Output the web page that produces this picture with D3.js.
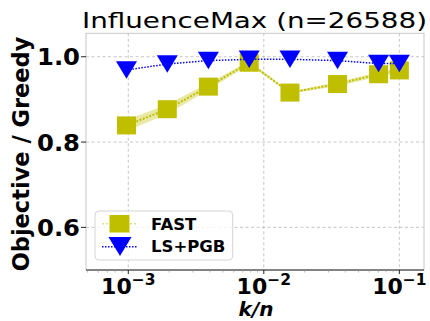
<!DOCTYPE html>
<html><head><meta charset="utf-8">
<script src="https://cdn.jsdelivr.net/npm/d3@7"></script>
<style>body{margin:0;background:#fff}svg{display:block}</style>
</head><body><svg id="c" width="430" height="321"></svg>
<script>
// ---- data ----
const kn      = [0.00097, 0.00194, 0.0039, 0.0078, 0.0156, 0.035, 0.0703, 0.1];
const fast    = [0.839, 0.877, 0.930, 0.986, 0.916, 0.936, 0.959, 0.968];
const fastStd = [0.013, 0.011, 0.008, 0.004, 0.002, 0.005, 0.005, 0.004];
const lspgb   = [0.969, 0.983, 0.991, 0.994, 0.994, 0.991, 0.984, 0.984];
const yTicks  = [0.6, 0.8, 1.0];
const xTicks  = [1e-3, 1e-2, 1e-1];
const xTickExp = ["\u22123", "\u22122", "\u22121"];
const seriesNames = ["FAST", "LS+PGB"];
const title = "InfluenceMax (n=26588)";
const xLabel = "k/n";
const yLabel = "Objective / Greedy";

// ---- layout ----
const L = 86, R = 424, T = 33.3, B = 270;
const yellow = "#bfbf00", blue = "#0000ff";
const svg = d3.select("#c");
const x = d3.scaleLog().domain([Math.pow(10, -3.312), Math.pow(10, -0.818)]).range([L, R]);
const y = d3.scaleLinear().domain([0.5, 1.055]).range([B, T]);

// grid
const g = svg.append("g");
g.selectAll(".gx").data(xTicks).enter().append("line")
  .attr("x1", d => x(d)).attr("x2", d => x(d)).attr("y1", T).attr("y2", B)
  .attr("stroke", "#b8b8b8").attr("stroke-width", 0.8).attr("stroke-dasharray", "3,2.5");
g.selectAll(".gy").data(yTicks).enter().append("line")
  .attr("x1", L).attr("x2", R).attr("y1", d => y(d)).attr("y2", d => y(d))
  .attr("stroke", "#b8b8b8").attr("stroke-width", 0.8).attr("stroke-dasharray", "3,2.5");

// spines
svg.append("rect").attr("x", L).attr("y", T).attr("width", R - L).attr("height", B - T)
  .attr("fill", "none").attr("stroke", "#c8c8c8").attr("stroke-width", 1);
svg.append("line").attr("x1", L).attr("x2", R).attr("y1", B).attr("y2", B)
  .attr("stroke", "#222").attr("stroke-width", 1.2);

// minor ticks
const minors = [];
for (let e = -4; e <= -1; e++) for (let m = 2; m <= 9; m++) {
  const v = m * Math.pow(10, e);
  if (v > x.domain()[0] && v < x.domain()[1]) minors.push(v);
}
svg.selectAll(".mt").data(minors).enter().append("line")
  .attr("x1", d => x(d)).attr("x2", d => x(d)).attr("y1", B).attr("y2", B + 2.5)
  .attr("stroke", "#999").attr("stroke-width", 0.7);
svg.selectAll(".xt").data(xTicks).enter().append("line")
  .attr("x1", d => x(d)).attr("x2", d => x(d)).attr("y1", B).attr("y2", B + 4)
  .attr("stroke", "#222").attr("stroke-width", 1);
svg.selectAll(".yt").data(yTicks).enter().append("line")
  .attr("x1", L - 5).attr("x2", L).attr("y1", d => y(d)).attr("y2", d => y(d))
  .attr("stroke", "#222").attr("stroke-width", 1);

// tick labels
svg.selectAll(".yl").data(yTicks).enter().append("text")
  .attr("x", 80).attr("y", d => y(d) + 8.5).attr("text-anchor", "end")
  .attr("font-family", "DejaVu Sans").attr("font-weight", "bold").attr("font-size", 23)
  .attr("textLength", 43).attr("lengthAdjust", "spacingAndGlyphs")
  .text(d => d.toFixed(1));
const xl = svg.selectAll(".xl").data(xTicks).enter().append("text")
  .attr("x", d => x(d)).attr("y", 293.5).attr("text-anchor", "middle")
  .attr("font-family", "DejaVu Sans").attr("font-weight", "bold").attr("font-size", 22);
xl.append("tspan").text("10");
xl.append("tspan").attr("dy", -8.5).attr("font-size", 15.5).text((d, i) => xTickExp[i]);

// axis labels & title
svg.append("text").attr("x", 256).attr("y", 316).attr("text-anchor", "middle")
  .attr("font-family", "DejaVu Sans").attr("font-weight", "bold").attr("font-style", "italic")
  .attr("font-size", 20).text(xLabel);
svg.append("text").attr("transform", "translate(28.5,154) rotate(-90)").attr("text-anchor", "middle")
  .attr("font-family", "DejaVu Sans").attr("font-weight", "bold").attr("font-size", 22.5).text(yLabel);
svg.append("text").attr("x", 254.5).attr("y", 28).attr("text-anchor", "middle")
  .attr("font-family", "DejaVu Sans").attr("font-size", 20.5)
  .attr("textLength", 345).attr("lengthAdjust", "spacingAndGlyphs").text(title);

// FAST band + line
const fastData = kn.map((k, i) => ({k, v: fast[i], s: fastStd[i]}));
svg.append("path").datum(fastData)
  .attr("d", d3.area().x(d => x(d.k)).y0(d => y(d.v - d.s)).y1(d => y(d.v + d.s)))
  .attr("fill", yellow).attr("fill-opacity", 0.35);
svg.append("path").datum(fastData)
  .attr("d", d3.line().x(d => x(d.k)).y(d => y(d.v)))
  .attr("fill", "none").attr("stroke", yellow).attr("stroke-width", 2).attr("stroke-dasharray", "2,1.5");
svg.selectAll(".sq").data(fastData).enter().append("rect")
  .attr("x", d => x(d.k) - 9.5).attr("y", d => y(d.v) - 9).attr("width", 19).attr("height", 18)
  .attr("fill", yellow);

// LS+PGB line + markers
const lsData = kn.map((k, i) => ({k, v: lspgb[i]}));
svg.append("path").datum(lsData)
  .attr("d", d3.line().x(d => x(d.k)).y(d => y(d.v)))
  .attr("fill", "none").attr("stroke", blue).attr("stroke-width", 1.5).attr("stroke-dasharray", "1.5,1.5");
const tri = (cx, cy, w, h) => `M${cx - w / 2},${cy - h / 2}L${cx + w / 2},${cy - h / 2}L${cx},${cy + h / 2}Z`;
svg.selectAll(".tr").data(lsData).enter().append("path")
  .attr("d", d => tri(x(d.k), y(d.v), 21, 17.5)).attr("fill", blue);

// legend
const lg = svg.append("g");
lg.append("rect").attr("x", 95).attr("y", 211).attr("width", 137.7).attr("height", 49).attr("rx", 4)
  .attr("fill", "#fff").attr("fill-opacity", 0.8).attr("stroke", "#d4d4d4").attr("stroke-width", 1);
lg.append("line").attr("x1", 102).attr("x2", 137).attr("y1", 223.7).attr("y2", 223.7)
  .attr("stroke", yellow).attr("stroke-opacity", 0.5).attr("stroke-width", 1.5).attr("stroke-dasharray", "2,2");
lg.append("rect").attr("x", 109.5).attr("y", 215).attr("width", 20).attr("height", 17.5).attr("fill", yellow);
lg.append("line").attr("x1", 102).attr("x2", 137).attr("y1", 246.7).attr("y2", 246.7)
  .attr("stroke", blue).attr("stroke-width", 1.5).attr("stroke-dasharray", "1.5,1.5");
lg.append("path").attr("d", tri(120, 246.5, 23, 19)).attr("fill", blue);
lg.selectAll(".lt").data(seriesNames).enter().append("text")
  .attr("x", 151).attr("y", (d, i) => 230 + i * 21.7)
  .attr("font-family", "DejaVu Sans").attr("font-weight", "bold").attr("font-size", 16.5)
  .text(d => d);
</script></body></html>
